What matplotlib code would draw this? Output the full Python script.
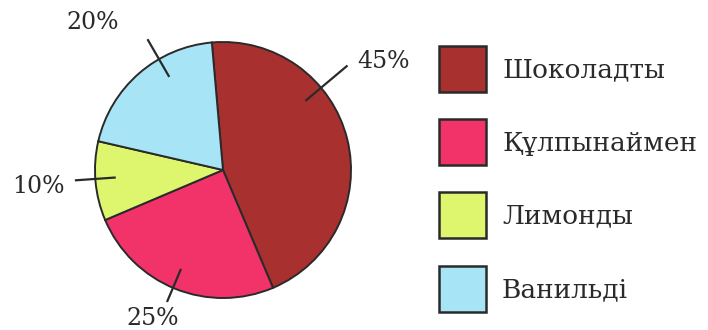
import numpy as np
import matplotlib.pyplot as plt
from matplotlib.patches import Rectangle

# Ice cream flavour shares
flavours = ['Шоколадты', 'Құлпынаймен', 'Лимонды', 'Ванильді']
shares = [45, 25, 10, 20]
share_labels = ['45%', '25%', '10%', '20%']
colors = ['#a8312f', '#f2336a', '#def56e', '#a6e4f6']

# label layout: leader direction, leader outer radius, text angle, text radius
leader_angles = [40, 247, 184, 120]
leader_outer = [1.27, 1.12, 1.16, 1.18]
text_angles = [34, 244.7, 185.2, 131.5]
text_radii = [1.51, 1.28, 1.45, 1.54]

plt.rcParams['font.family'] = ['DejaVu Serif']
ink = '#2a2a2a'

W, H = 708, 330
fig = plt.figure(figsize=(W / 100, H / 100), dpi=100)
ax = fig.add_axes([0, 0, 1, 1])

# 1 data unit = 128 px, pie centred at (223, 170) px from top-left
scale = 128.0
cx, cy = 223, 170

wedges, _ = ax.pie(shares, colors=colors, startangle=95, counterclock=False,
                   radius=1.0, center=(0, 0), frame=True,
                   wedgeprops=dict(edgecolor=ink, linewidth=1.4))
ax.set_xlim(-cx / scale, (W - cx) / scale)
ax.set_ylim(-(H - cy) / scale, cy / scale)
ax.set_aspect('equal')
ax.axis('off')

for text, la, lo, ta, tr in zip(share_labels, leader_angles, leader_outer,
                                text_angles, text_radii):
    a = np.deg2rad(la)
    ax.plot([0.84 * np.cos(a), lo * np.cos(a)],
            [0.84 * np.sin(a), lo * np.sin(a)],
            color=ink, lw=1.6, solid_capstyle='butt')
    t = np.deg2rad(ta)
    ax.text(tr * np.cos(t), tr * np.sin(t), text, ha='center', va='center',
            fontsize=17, color=ink)

# legend: coloured squares with flavour names, laid out in figure pixels
box_w, box_h = 47, 46
box_x, text_x = 439, 502
row_tops = [46, 119, 192, 266]
for name, col, top in zip(flavours, colors, row_tops):
    fig.patches.append(Rectangle((box_x / W, 1 - (top + box_h) / H),
                                 box_w / W, box_h / H,
                                 transform=fig.transFigure,
                                 facecolor=col, edgecolor=ink, linewidth=1.8))
    fig.text(text_x / W, 1 - (top + box_h / 2 + 1) / H, name,
             ha='left', va='center', fontsize=19, color=ink)

fig.savefig('out.png', dpi=100)
